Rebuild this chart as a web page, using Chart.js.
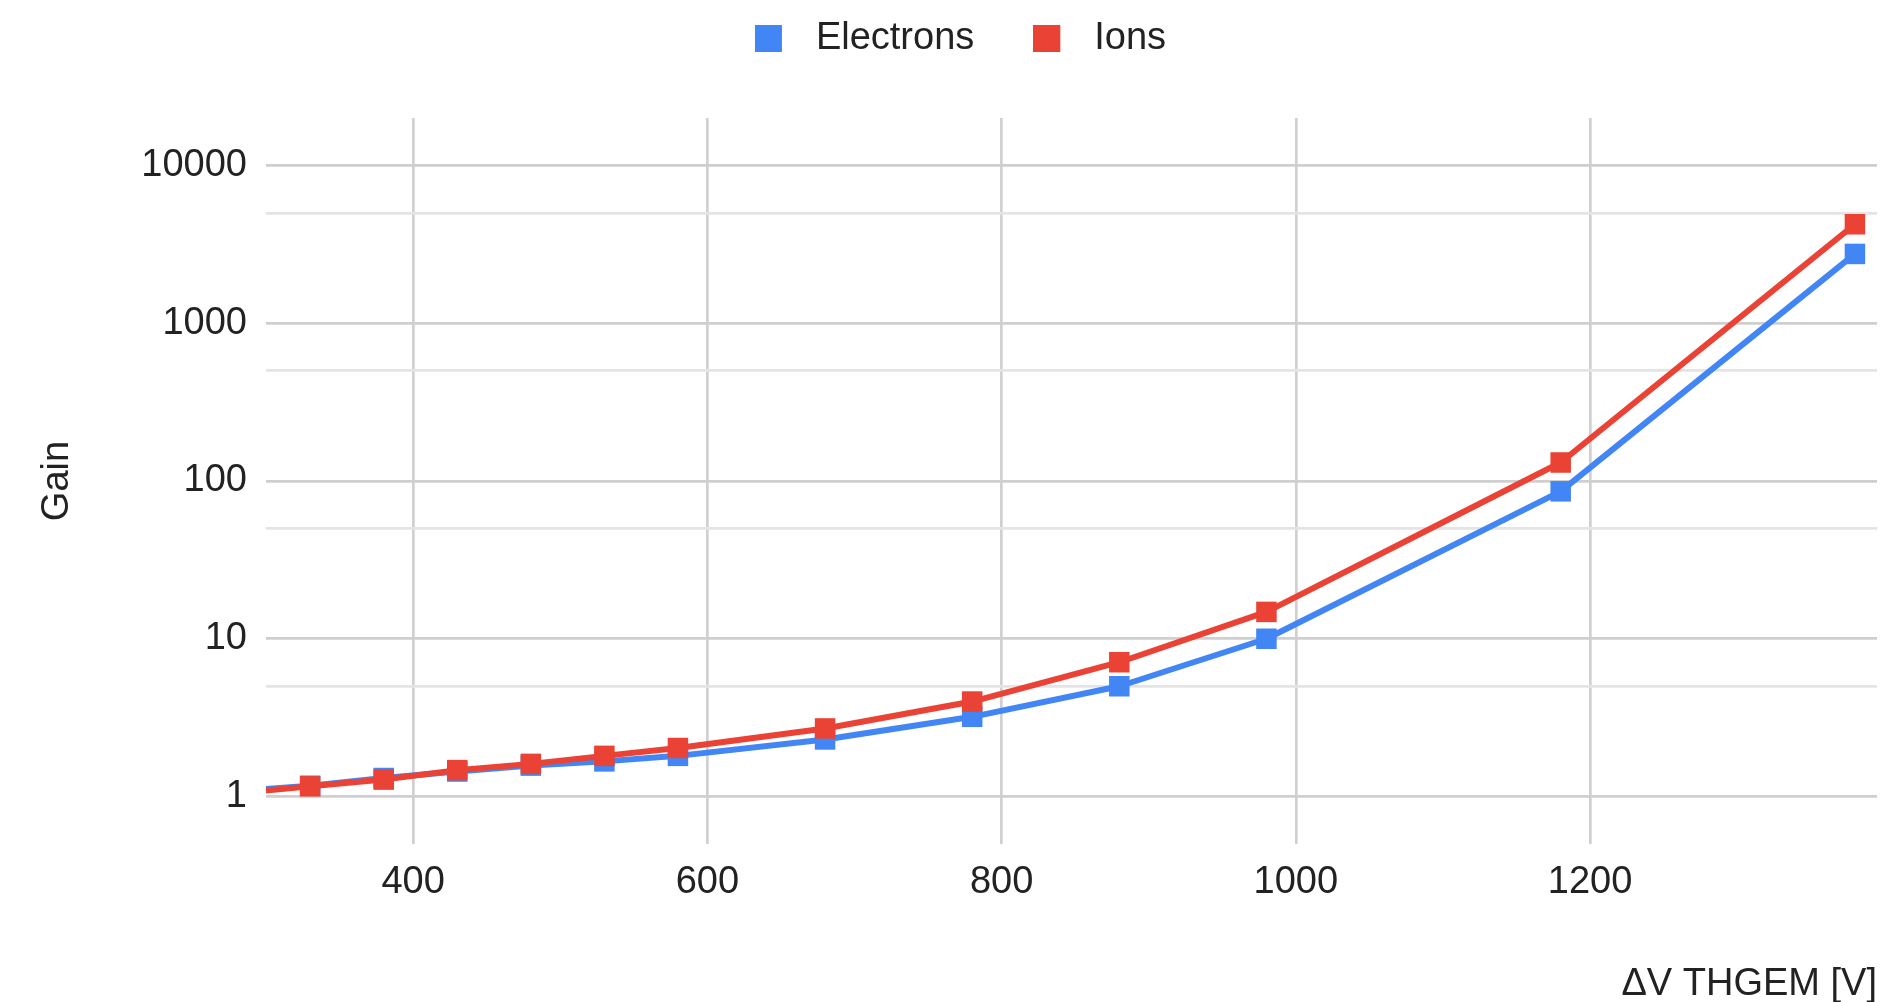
<!DOCTYPE html>
<html>
<head>
<meta charset="utf-8">
<script src="https://cdn.jsdelivr.net/npm/chart.js@4.4.1/dist/chart.umd.min.js"></script>
<style>
html,body{margin:0;padding:0;background:#ffffff;}
#wrap{width:1895px;height:1002px;}
</style>
</head>
<body>
<div id="wrap"><canvas id="c" width="1895" height="1002"></canvas></div>
<script>
// ---- data ----
const voltages     = [280, 330, 380, 430, 480, 530, 580, 680, 780, 880, 980, 1180, 1380];
const electronGain = [1.08, 1.17, 1.31, 1.44, 1.57, 1.67, 1.81, 2.3, 3.2, 5.0, 10.0, 86, 2750];
const ionGain      = [1.05, 1.16, 1.28, 1.47, 1.61, 1.81, 2.03, 2.7, 4.0, 7.1, 14.8, 131, 4240];
const seriesNames  = ['Electrons', 'Ions'];
const xTickValues  = [400, 600, 800, 1000, 1200];
const yMajorTicks  = [1, 10, 100, 1000, 10000];
const yMinorTicks  = [5, 50, 500, 5000];
const xTitle = 'ΔV THGEM [V]';
const yTitle = 'Gain';

const toPoints = (xs, ys) => xs.map((x, i) => ({x: x, y: ys[i]}));

Chart.defaults.font.family = "'Liberation Sans', Arial, Helvetica, sans-serif";
Chart.defaults.font.size = 38;
Chart.defaults.color = '#222222';

const BLUE = '#4285f4';
const RED = '#ea4335';

// legend swatch: a 27px square followed by a transparent gap
function makeSwatch(color) {
  const cv = document.createElement('canvas');
  cv.width = 42; cv.height = 27;
  const g = cv.getContext('2d');
  g.fillStyle = color;
  g.fillRect(0, 0, 27, 27);
  return cv;
}

function seriesStyle(color, order) {
  return {
    borderColor: color,
    backgroundColor: color,
    borderWidth: 6,
    pointStyle: 'rect',
    pointRadius: 14.5,
    pointHoverRadius: 14.5,
    pointBorderWidth: 0,
    borderJoinStyle: 'round',
    order: order,
    clip: 0
  };
}

new Chart(document.getElementById('c'), {
  type: 'line',
  data: {
    datasets: [
      Object.assign({ label: seriesNames[0], data: toPoints(voltages, electronGain) }, seriesStyle(BLUE, 2)),
      Object.assign({ label: seriesNames[1], data: toPoints(voltages, ionGain) }, seriesStyle(RED, 1))
    ]
  },
  options: {
    responsive: false,
    animation: false,
    devicePixelRatio: 1,
    layout: { padding: { top: -39.5, right: 18, bottom: 0, left: 44 } },
    plugins: {
      tooltip: { enabled: false },
      legend: {
        display: true,
        position: 'top',
        align: 'center',
        labels: {
          usePointStyle: true,
          pointStyleWidth: 42,
          boxWidth: 42,
          boxHeight: 27,
          padding: 59,
          color: '#222222',
          font: { size: 38 },
          generateLabels: (chart) => {
            const items = Chart.defaults.plugins.legend.labels.generateLabels(chart);
            items.forEach(it => { it.pointStyle = makeSwatch(it.fillStyle); });
            return items;
          },
          sort: (a, b) => a.datasetIndex - b.datasetIndex
        }
      },
      title: {
        display: true,
        text: '',
        weight: 500,
        font: { size: 10 },
        padding: { top: 0, bottom: 38.5 }
      }
    },
    scales: {
      x: {
        type: 'linear',
        min: 300,
        max: 1395,
        afterBuildTicks: (scale) => { scale.ticks = xTickValues.map(v => ({ value: v })); },
        afterFit: (scale) => { scale.height = 158; },
        ticks: {
          autoSkip: false,
          maxRotation: 0,
          padding: 16,
          color: '#222222',
          font: { size: 38 },
          callback: (v) => String(v)
        },
        grid: {
          color: '#d0d0d0',
          lineWidth: 2.7,
          drawTicks: false
        },
        border: { display: false },
        title: {
          display: true,
          text: xTitle,
          align: 'end',
          color: '#222222',
          font: { size: 38 },
          padding: { top: 0, bottom: -5 }
        }
      },
      y: {
        type: 'logarithmic',
        min: 0.5,
        max: 20000,
        afterBuildTicks: (scale) => {
          scale.ticks = yMajorTicks.concat(yMinorTicks).sort((a, b) => a - b).map(v => ({ value: v }));
        },
        afterFit: (scale) => { scale.width = 222; },
        ticks: {
          autoSkip: false,
          padding: 19,
          color: '#222222',
          font: { size: 38 },
          callback: (v) => (yMajorTicks.includes(v) ? String(v) : '')
        },
        grid: {
          color: (ctx) => (ctx.tick && yMajorTicks.includes(ctx.tick.value) ? '#cfcfcf' : '#e4e4e4'),
          lineWidth: 2.7,
          drawTicks: false
        },
        border: { display: false },
        title: {
          display: true,
          text: yTitle,
          color: '#222222',
          font: { size: 38 },
          padding: { top: -8.8, bottom: 0 }
        }
      }
    }
  }
});
</script>
</body>
</html>
